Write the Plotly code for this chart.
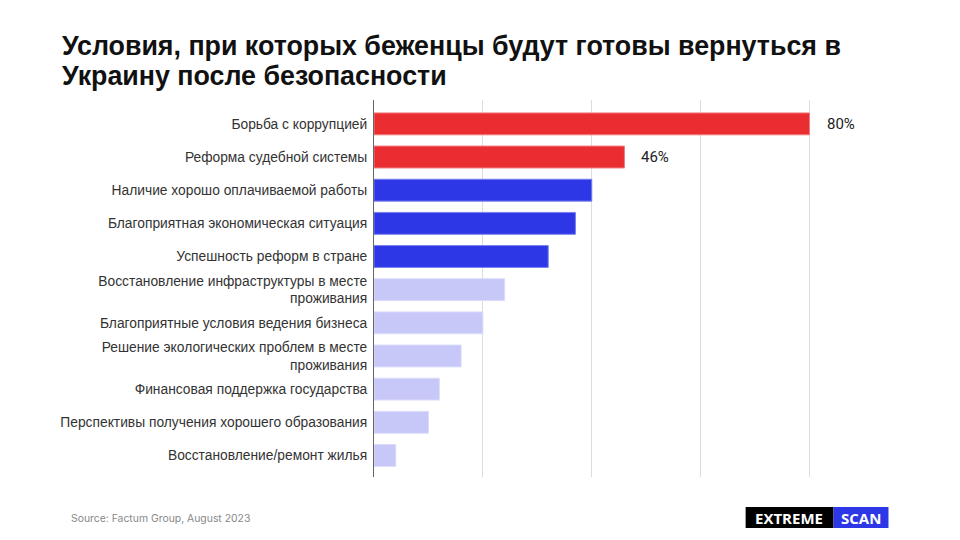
import plotly.graph_objects as go

title_lines = [
    "Условия, при которых беженцы будут готовы вернуться в",
    "Украину после безопасности",
]
categories = [
    "Борьба с коррупцией",
    "Реформа судебной системы",
    "Наличие хорошо оплачиваемой работы",
    "Благоприятная экономическая ситуация",
    "Успешность реформ в стране",
    "Восстановление инфраструктуры в месте<br>проживания",
    "Благоприятные условия ведения бизнеса",
    "Решение экологических проблем в месте<br>проживания",
    "Финансовая поддержка государства",
    "Перспективы получения хорошего образования",
    "Восстановление/ремонт жилья",
]
values = [80, 46, 40, 37, 32, 24, 20, 16, 12, 10, 4]
groups = ["top", "top", "mid", "mid", "mid", "low", "low", "low", "low", "low", "low"]
labels = ["80%", "46%", "", "", "", "", "", "", "", "", ""]

palette = {"top": "#EA2D31", "mid": "#2D37E6", "low": "#C7C7F8"}
edge = {"top": "#F07E80", "mid": "#7A80EE", "low": "#DCDCFA"}

W, H = 960, 540
L, T, B = 374, 100, 63
XMAX = 81
R = W - (L + XMAX * 436 / 80)

fig = go.Figure()
fig.add_trace(go.Bar(
    y=categories, x=values, orientation="h",
    marker=dict(color=[palette[g] for g in groups],
                line=dict(color=[edge[g] for g in groups], width=1)),
    width=0.66, hoverinfo="skip",
))

for c, v, t in zip(categories, values, labels):
    if t:
        fig.add_annotation(x=v, y=c, text=t, showarrow=False, xanchor="left",
                           xshift=15, font=dict(family="Roboto, Liberation Sans", size=15, color="#222"))

fig.update_layout(
    width=W, height=H, margin=dict(l=L, r=R, t=T, b=B),
    paper_bgcolor="white", plot_bgcolor="white", showlegend=False,
    xaxis=dict(range=[0, XMAX], dtick=20, showticklabels=False, showgrid=True,
               gridcolor="#DDDDDD", gridwidth=1, zeroline=False, fixedrange=True),
    yaxis=dict(autorange=False, range=[10.65, -0.72], showline=True, linecolor="#666",
               linewidth=1, ticks="", ticklabelstandoff=3,
               tickfont=dict(family="Liberation Sans, Arial", size=13.8, color="#333")),
)

def px_x(p):
    return (p - L) / (W - L - R)

def px_y(p):
    return (H - B - p) / (H - T - B)

for i, line in enumerate(title_lines):
    fig.add_annotation(text="<b>" + line + "</b>", xref="paper", yref="paper",
                       x=px_x(60), y=px_y(46 + 30 * i), xanchor="left", yanchor="middle",
                       showarrow=False,
                       font=dict(family="Liberation Sans, Arial", size=26.8, color="#111"))

fig.add_annotation(text="Source: Factum Group, August 2023", xref="paper", yref="paper",
                   x=px_x(69), y=px_y(518),
                   xanchor="left", yanchor="middle", showarrow=False,
                   font=dict(family="Inter, Liberation Sans", size=10.4, color="#888"))

fig.add_shape(type="rect", xref="paper", yref="paper", x0=px_x(746), x1=px_x(834),
              y0=px_y(528), y1=px_y(507), fillcolor="#000", line=dict(width=0))
fig.add_shape(type="rect", xref="paper", yref="paper", x0=px_x(834), x1=px_x(889),
              y0=px_y(528), y1=px_y(507), fillcolor="#2D37E6", line=dict(width=0))
fig.add_annotation(text="<b>EXTREME</b>", xref="paper", yref="paper", x=px_x(789), y=px_y(517.5),
                   xanchor="center", yanchor="middle", showarrow=False,
                   font=dict(family="Open Sans", size=15, color="white"))
fig.add_annotation(text="<b>SCAN</b>", xref="paper", yref="paper", x=px_x(861.5), y=px_y(517.5),
                   xanchor="center", yanchor="middle", showarrow=False,
                   font=dict(family="Open Sans", size=15, color="white"))

fig.write_html("out.html")
